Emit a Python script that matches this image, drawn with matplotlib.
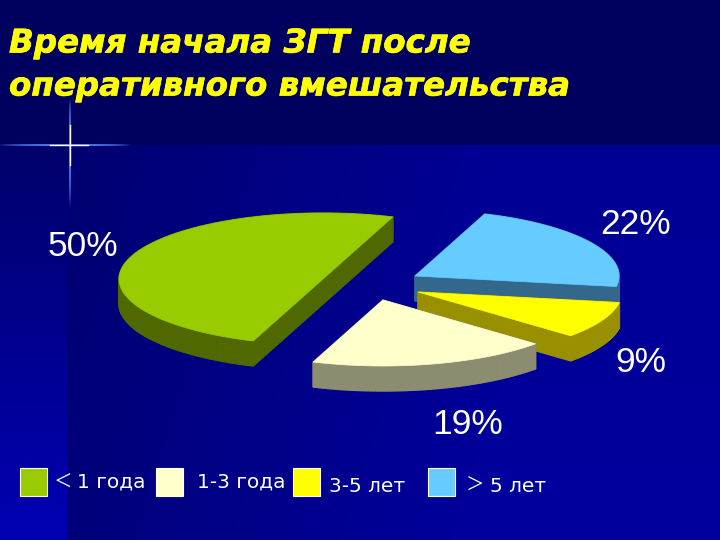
import numpy as np
import matplotlib
matplotlib.use('Agg')
import matplotlib.pyplot as plt
import matplotlib.patheffects as pe
from matplotlib.patches import Polygon, Rectangle

plt.rcParams['font.family'] = ['DejaVu Sans']

# ---------------------------------------------------------------------------
# Data
# ---------------------------------------------------------------------------
categories = ['< 1 года', '1-3 года', '3-5 лет', '> 5 лет']
values = [50, 19, 9, 22]
pct_labels = ['50%', '19%', '9%', '22%']
title_lines = ['Время начала ЗГТ после', 'оперативного вмешательства']

top_colors = ['#99cc00', '#ffffcc', '#ffff00', '#66ccff']
side_colors = ['#4f6900', '#8c8c70', '#999000', '#33688c']

# slide layout in pixels
centers = [(323, 279), (383, 300), (418, 292), (415, 276)]
label_pos = [(83, 246), (468, 424), (641, 362), (636, 225)]
legend_box_x = [20, 156, 293, 428]
legend_text = [(77, 482), (197, 482), (329, 486), (490, 486)]
legend_sign = [(54, 483), None, None, (467, 486)]
RX, RY, DEPTH = 204, 66, 25
START = 70  # green slice starts here and runs counter clockwise

fig = plt.figure(figsize=(7.2, 5.4), dpi=100)
ax = fig.add_axes([0, 0, 1, 1])
ax.set_xlim(0, 720)
ax.set_ylim(540, 0)
ax.axis('off')

# background: dark top band, left column brightening downwards, body brightening to the right
yy, xx = np.mgrid[0:540, 0:720]
body = 0.42 + 0.16 * np.clip(xx / 500, 0, 1) + 0.04 * (yy - 145) / 395
left = 0.42 + 0.28 * (yy - 145) / 395
blue = np.where(xx < 68, left, body)
blue = np.where(yy < 145, 0.37, blue)
bg = np.zeros((540, 720, 3))
bg[:, :, 2] = blue
ax.imshow(bg, extent=(0, 720, 540, 0), aspect='auto', zorder=0)

# star in the corner
sx, sy = 70, 145
for k in range(60):
    f = 1 - k / 60
    ax.plot([sx - 70 * f, sx + 60 * f], [sy, sy], color='#5a8cff', alpha=0.05, lw=1.5, zorder=1)
    ax.plot([sx, sx], [sy - 45 * f, sy + 60 * f], color='#5a8cff', alpha=0.05, lw=1.5, zorder=1)
ax.plot([sx - 20, sx + 18], [sy, sy], color='white', lw=1, zorder=1)
ax.plot([sx, sx], [sy - 20, sy + 20], color='white', lw=1, zorder=1)


def slice_outline(cx, cy, t1, t2):
    t = np.radians(np.linspace(t1, t2, 80))
    xs = np.r_[cx, cx + RX * np.cos(t)]
    ys = np.r_[cy, cy - RY * np.sin(t)]
    return np.column_stack([xs, ys])


# angles run from the data
angles = [v * 3.6 for v in values]
spans = [(START, START + angles[0])]
end = START + angles[0]
for a in angles[1:]:
    spans.append((end, end + a))
    end += a

# painter's order: green, blue, yellow, cream
for i in [0, 3, 2, 1]:
    cx, cy = centers[i]
    pts = slice_outline(cx, cy, spans[i][0], spans[i][1])
    n = len(pts)
    for j in range(n):
        a, b = pts[j], pts[(j + 1) % n]
        quad = [a, b, b + [0, DEPTH], a + [0, DEPTH]]
        ax.add_patch(Polygon(quad, closed=True, fc=side_colors[i], ec=side_colors[i], lw=1, zorder=2))
    ax.add_patch(Polygon(pts, closed=True, fc=top_colors[i], ec=top_colors[i], lw=0.5, zorder=2))

for lab, (x, y) in zip(pct_labels, label_pos):
    ax.text(x, y, lab, color='white', fontsize=25.5, family='Liberation Sans', ha='center', va='center', zorder=3)

for line, y in zip(title_lines, [44, 87]):
    ax.text(9, y, line, color='#ffff00', fontsize=23.4, fontweight='bold', fontstyle='italic', ha='left', va='center',
            zorder=3, path_effects=[pe.withStroke(linewidth=0.5, foreground='#ffff00')])

for i, cat in enumerate(categories):
    ax.add_patch(Rectangle((legend_box_x[i], 468), 27, 28, fc=top_colors[i], ec='white', lw=0.8, zorder=3))
    x, y = legend_text[i]
    if legend_sign[i] is not None:
        sign, cat = cat.split(' ', 1)
        ax.text(legend_sign[i][0], legend_sign[i][1], sign, color='white', fontsize=21, family='Liberation Serif',
                ha='left', va='center', zorder=3)
    ax.text(x, y, cat, color='white', fontsize=14.5, ha='left', va='center', zorder=3)

fig.savefig('out.png', dpi=100)
